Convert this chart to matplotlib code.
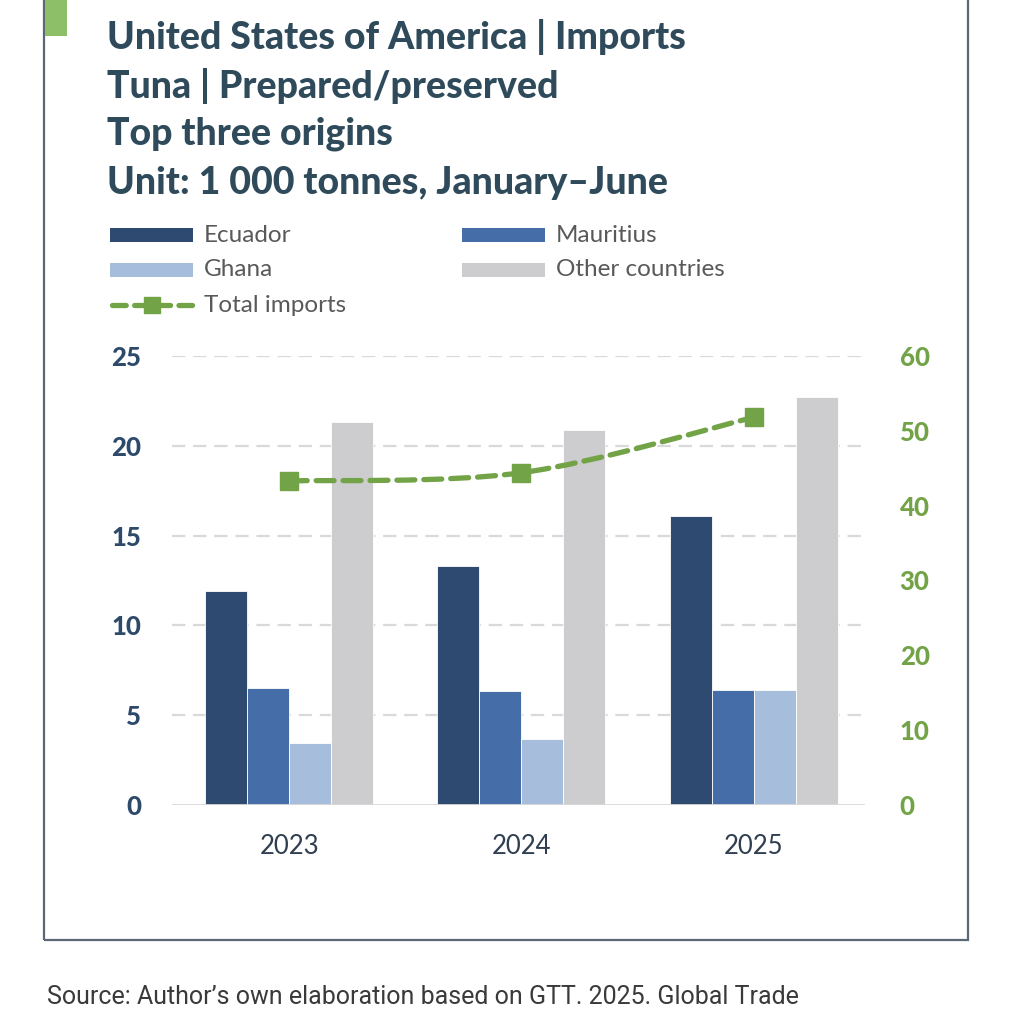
"""Recreate: US imports of prepared/preserved tuna, top three origins."""

import matplotlib

matplotlib.use("Agg")
import matplotlib.pyplot as plt
import numpy as np
from matplotlib.patches import PathPatch, Rectangle
from matplotlib.path import Path

plt.rcParams["font.family"] = ["Lato", "DejaVu Sans"]

# --- data (1 000 tonnes, January-June) ---
years = ["2023", "2024", "2025"]
ecuador = [11.9, 13.3, 16.1]
mauritius = [6.5, 6.35, 6.4]
ghana = [3.45, 3.7, 6.4]
other = [21.3, 20.9, 22.7]
total = [43.3, 44.4, 51.8]

left_ticks = [0, 5, 10, 15, 20, 25]
right_ticks = [0, 10, 20, 30, 40, 50, 60]

series = [
    ("Ecuador", ecuador, "#2E4A70"),
    ("Mauritius", mauritius, "#456EA8"),
    ("Ghana", ghana, "#A6BEDC"),
    ("Other countries", other, "#CDCDD0"),
]

title_lines = [
    "United States of America | Imports",
    "Tuna | Prepared/preserved",
    "Top three origins",
    "Unit: 1 000 tonnes, January\u2013June",
]
source = "Source: Author\u2019s own elaboration based on GTT. 2025. Global Trade"

TITLE_C = "#2F4B5B"
NAVY = "#2E4A6B"
GREEN = "#72A346"
GRID = "#D9D9D9"

fig = plt.figure(figsize=(10.14, 10.14), dpi=100)
W = H = 1014.0


def fx(px):
    return px / W


def fy(py):
    return 1 - py / H


# frame and green tab
fig.add_artist(Rectangle((fx(44), fy(940)), fx(968) - fx(44), fy(-20) - fy(940),
                         transform=fig.transFigure, fill=False,
                         edgecolor="#5B6776", linewidth=1.6))
fig.add_artist(Rectangle((fx(45), fy(36)), fx(67) - fx(45), fy(0) - fy(36),
                         transform=fig.transFigure, facecolor="#8CBF68",
                         edgecolor="none"))

# title
for i, line in enumerate(title_lines):
    fig.text(fx(107), fy(37 + i * 48.5), line, fontsize=27, fontweight=900,
             color=TITLE_C, va="center", ha="left")

# chart
ax = fig.add_axes([fx(172), fy(805), fx(865) - fx(172), fy(356) - fy(805)])
x = np.arange(len(years))
w = 0.181
for k, (name, vals, col) in enumerate(series):
    ax.bar(x + (k - 1.5) * w, vals, width=w, color=col, edgecolor="white",
           linewidth=0.6, zorder=2, label=name)

ax.set_xlim(-0.505, 2.48)
ax.set_ylim(0, 25)
ax.set_yticks(left_ticks, [str(v) for v in left_ticks], fontweight=900,
              fontsize=18.5, color=NAVY)
ax.set_xticks(x, years, fontsize=18.5, color="#2F3E50")
for yv in left_ticks[1:]:
    ax.axhline(yv, color=GRID, linewidth=1.6, linestyle=(0, (6, 3.5)), zorder=1)
ax.axhline(0, color=GRID, linewidth=2.0, zorder=3)
for s in ax.spines.values():
    s.set_visible(False)
ax.tick_params(axis="both", length=0)
ax.tick_params(axis="y", pad=22)
ax.tick_params(axis="x", pad=21)

# total imports on secondary axis, smoothed as in the original
ax2 = ax.twinx()
ax2.set_ylim(0, 60)
ax2.set_yticks(right_ticks, [str(v) for v in right_ticks], fontweight=900,
               fontsize=18.5, color=GREEN)
for s in ax2.spines.values():
    s.set_visible(False)
ax2.tick_params(axis="y", length=0, pad=25)

pts = np.column_stack([x, total]).astype(float)
verts = [pts[0]]
codes = [Path.MOVETO]
for i in range(len(pts) - 1):
    p0 = pts[i - 1] if i > 0 else pts[i]
    p1, p2 = pts[i], pts[i + 1]
    p3 = pts[i + 2] if i + 2 < len(pts) else pts[i + 1]
    c1 = p1 + (p2 - p0) / 6
    c2 = p2 - (p3 - p1) / 6
    verts += [c1, c2, p2]
    codes += [Path.CURVE4] * 3
curve = PathPatch(Path(verts, codes), facecolor="none", edgecolor=GREEN,
                  linewidth=3.8, linestyle=(0, (3.4, 1.7)), capstyle="round",
                  zorder=4)
ax2.add_patch(curve)
ax2.plot(x, total, linestyle="none", marker="s", markersize=12.5, color=GREEN,
         zorder=5)

# legend (manual layout, two columns)
leg_rows = [235, 270, 305]
handles_x = [(110, 193), (462, 545)]
for k, (name, _, col) in enumerate(series):
    r, c = divmod(k, 2)
    y0 = leg_rows[r]
    x0, x1 = handles_x[c]
    fig.add_artist(Rectangle((fx(x0), fy(y0 + 7)), fx(x1) - fx(x0),
                             fy(y0 - 7) - fy(y0 + 7), transform=fig.transFigure,
                             facecolor=col, edgecolor="none"))
    fig.text(fx(x1 + 11), fy(y0), name, fontsize=17.5, color="#595959",
             va="center", ha="left")
fig.add_artist(plt.Line2D([fx(112), fx(192)], [fy(305), fy(305)],
                          transform=fig.transFigure, color=GREEN, linewidth=3.8,
                          linestyle=(0, (2.6, 1.6)), solid_capstyle="round",
                          dash_capstyle="round"))
fig.add_artist(plt.Line2D([fx(152)], [fy(305)], transform=fig.transFigure,
                          marker="s", markersize=11, color=GREEN))
fig.text(fx(204), fy(305), "Total imports", fontsize=17.5, color="#595959",
         va="center", ha="left")

# source
fig.text(fx(47), fy(997), source, fontsize=18, color="#3A3A3A",
         family=["Roboto", "DejaVu Sans"], va="center", ha="left")

fig.savefig("out.png", dpi=100)
